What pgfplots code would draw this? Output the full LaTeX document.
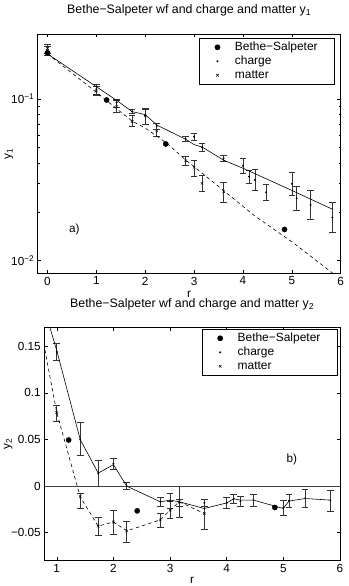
\documentclass[border=0pt]{standalone}
\usepackage{fontspec}
\setmainfont{Liberation Sans}
\usepackage{pgfplots}
\usepackage{pgfplotstable}
\pgfplotsset{compat=1.18}

% ---- y_1 : charge and matter points with lower/upper error limits ----
\pgfplotstableread{
r      y       lo      hi
0      0.198   0.185   0.212
1      0.115   0.107   0.123
1.414  0.095   0.089   0.099
1.732  0.0835  0.081   0.086
2      0.079   0.070   0.087
2.236  0.068   0.065   0.071
2.828  0.0566  0.0545  0.0590
3      0.0585  0.0558  0.0613
3.162  0.0502  0.0472  0.0532
3.606  0.0430  0.0410  0.0450
4      0.0386  0.0347  0.0430
4.123  0.0331  0.0301  0.0364
4.243  0.0316  0.0271  0.0368
4.472  0.0265  0.0237  0.0297
5      0.0299  0.0255  0.0352
5.099  0.0243  0.0206  0.0287
5.385  0.0221  0.0180  0.0271
5.831  0.0185  0.0149  0.0230
}\chargeA
\pgfplotstableread{
r      y       lo      hi
0      0.205   0.192   0.219
1      0.112   0.105   0.120
1.414  0.0896  0.0827  0.0986
1.732  0.0724  0.0674  0.0796
2      0.0785  0.0700  0.0867
2.236  0.0634  0.0585  0.0707
2.828  0.0415  0.0391  0.0440
3      0.0378  0.0334  0.0415
3.162  0.0301  0.0267  0.0339
3.606  0.0267  0.0229  0.0304
}\matterA
\pgfplotstableread{
r      y
0      0.190
1      0.119
1.414  0.098
1.732  0.0835
2      0.0800
2.236  0.069
2.828  0.0563
3      0.0522
3.162  0.0505
3.606  0.0418
4      0.0373
5      0.0272
5.831  0.0208
}\chargeLineA
\pgfplotstableread{
r      y
0      0.190
1      0.110
1.414  0.087
1.732  0.073
2      0.066
2.236  0.059
2.449  0.053
2.828  0.042
3      0.0381
3.162  0.0348
3.606  0.0271
4.243  0.0189
5      0.0131
5.831  0.0084
}\matterLineA
\pgfplotstableread{
r     y
0     0.193
1.21  0.0985
2.42  0.0527
4.85  0.0156
}\bsA

% ---- y_2 ----
\pgfplotstableread{
r      y        lo       hi
1      0.144    0.1347   0.1534
1.414  0.050    0.033    0.068
1.732  0.0136   0.000    0.0272
2      0.024    0.0183   0.0297
2.236  0.000   -0.0036   0.004
2.828 -0.0168  -0.0215  -0.0122
3     -0.016   -0.024   -0.008
3.162 -0.018   -0.0215  -0.0143
3.606 -0.018   -0.0215  -0.0143
4     -0.018   -0.024   -0.0122
4.123 -0.0136  -0.0186  -0.0086
4.243 -0.016   -0.0215  -0.0108
4.472 -0.015   -0.0215  -0.009
5     -0.023   -0.031   -0.015
5.099 -0.0155  -0.0222  -0.009
5.385 -0.013   -0.0222  -0.0036
5.831 -0.0155  -0.0269  -0.0043
}\chargeB
\pgfplotstableread{
r      y        lo       hi
1      0.079    0.070    0.087
1.414 -0.0115  -0.024   -0.008
1.732 -0.043   -0.0527  -0.033
2     -0.0384  -0.0512  -0.0258
2.236 -0.048   -0.0599  -0.0373
2.828 -0.0362  -0.0437  -0.0287
3     -0.0258  -0.0348  -0.0160
3.162 -0.0168  -0.033    0.000
3.606 -0.0294  -0.0462  -0.0140
}\matterB
\pgfplotstableread{
r      y
0      0.35
1      0.1455
1.414  0.050
1.732  0.014
2      0.023
2.236  0.000
2.828 -0.0168
3     -0.015
3.162 -0.0168
3.606 -0.024
4     -0.018
4.123 -0.0136
4.243 -0.015
4.472 -0.015
5     -0.024
5.099 -0.016
5.385 -0.0133
5.831 -0.015
}\chargeLineB
\pgfplotstableread{
r      y
0      0.40
1      0.079
1.414 -0.0115
1.732 -0.043
2     -0.0384
2.236 -0.048
2.828 -0.0362
3     -0.0258
3.162 -0.0168
3.606 -0.0294
}\matterLineB
\pgfplotstableread{
r     y
1.21  0.0495
2.42 -0.0265
4.85 -0.0229
}\bsB

\newcommand{\lblfont}{\fontsize{11.8}{13.5}\selectfont}
\newcommand{\lgdfont}{\fontsize{12}{14}\selectfont}
\newcommand{\ttlfont}{\fontsize{12.4}{14.5}\selectfont}

\pgfplotsset{
  panel/.style={
    scale only axis,
    axis line style={black, line width=0.5pt},
    tick style={black, line width=0.5pt},
    tick align=inside,
    xtick pos=both, ytick pos=both,
    major tick length=3.5bp, minor tick length=2bp,
    tick label style={font=\lblfont},
    /pgf/number format/assume math mode=true,
    label style={font=\lblfont},
    title style={font=\ttlfont, at={(axis description cs:0.5,1)}, anchor=base},
    xlabel style={at={(axis description cs:0.5,0)}, anchor=base, yshift=-23.7bp},
    legend cell align=left,
    legend image code/.code={%
      \draw[##1] plot coordinates {(8.5bp,0bp)};
      \path (0bp,0bp) (23.7bp,0bp);},
    legend style={font=\lgdfont, draw=black, line width=0.5pt,
      anchor=north west,
      inner xsep=9.5bp, inner ysep=2.5bp, row sep=1.5bp,
      nodes={inner ysep=0.5bp, text height=8.5bp, text depth=3bp,
             text width=88bp}},
  },
  bars/.style={
    error bars/.cd, y dir=both, y explicit,
    error bar style={black!80, line width=0.6pt, solid},
    error mark options={black!80, line width=0.6pt, mark size=3.3bp, rotate=90, solid},
  },
}

\begin{document}
\begin{tikzpicture}
\useasboundingbox (0,0) rectangle (349bp,586bp);

\begin{axis}[panel,
  at={(37.7bp,312.7bp)}, anchor=south west,
  width=303bp, height=239.3bp,
  ymode=log, xmin=-0.2, xmax=6, ymin=0.00836, ymax=0.252,
  xtick={0,1,2,3,4,5,6},
  ytick={0.01,0.1},
  yticklabels={10\textsuperscript{−2},10\textsuperscript{−1}},
  title={Bethe−Salpeter wf and charge and matter y\textsubscript{1}},
  title style={yshift=14.7bp},
  xlabel={r},
  ylabel={y\textsubscript{1}},
  ylabel style={at={([xshift=-28.7bp]axis description cs:0,0.5)}, anchor=center, rotate=0},
  legend style={at={([yshift=-4.3bp]axis description cs:0.5323,1)}},
]
\addplot[only marks, mark=*, mark size=2.6bp, black] table[x=r, y=y] {\bsA};
\addplot[only marks, mark=*, mark size=0.7bp, black, bars]
  table[x=r, y=y, y error plus expr=\thisrow{hi}-\thisrow{y}, y error minus expr=\thisrow{y}-\thisrow{lo}] {\chargeA};
\addplot[only marks, mark=x, mark size=1.8bp, black, bars]
  table[x=r, y=y, y error plus expr=\thisrow{hi}-\thisrow{y}, y error minus expr=\thisrow{y}-\thisrow{lo}] {\matterA};
\addplot[black, line width=0.6pt, no marks, forget plot] table[x=r, y=y] {\chargeLineA};
\addplot[black, line width=0.6pt, no marks, dash pattern=on 3.5bp off 3bp, forget plot] table[x=r, y=y] {\matterLineA};
\legend{Bethe−Salpeter, charge, matter}
\node[font=\lblfont, anchor=center] at (axis cs:0.55,0.0157) {a)};
\end{axis}

\begin{axis}[panel,
  at={(44.3bp,25.3bp)}, anchor=south west,
  width=295.7bp, height=233bp,
  xmin=0.78, xmax=6, ymin=-0.08, ymax=0.17,
  xtick={1,2,3,4,5,6},
  ytick={-0.05,0,0.05,0.1,0.15},
  yticklabels={−0.05,0,0.05,0.1,0.15},
  title={Bethe−Salpeter wf and charge and matter y\textsubscript{2}},
  title style={yshift=13.9bp},
  xlabel={r},
  xlabel style={yshift=0.5bp},
  ylabel={y\textsubscript{2}},
  ylabel style={at={([xshift=-36bp]axis description cs:0,0.5)}, anchor=center, rotate=0},
  legend style={at={([yshift=-1.6bp]axis description cs:0.5323,1)}},
]
\addplot[only marks, mark=*, mark size=2.6bp, black] table[x=r, y=y] {\bsB};
\addplot[only marks, mark=*, mark size=0.7bp, black, bars]
  table[x=r, y=y, y error plus expr=\thisrow{hi}-\thisrow{y}, y error minus expr=\thisrow{y}-\thisrow{lo}] {\chargeB};
\addplot[only marks, mark=x, mark size=1.8bp, black, bars]
  table[x=r, y=y, y error plus expr=\thisrow{hi}-\thisrow{y}, y error minus expr=\thisrow{y}-\thisrow{lo}] {\matterB};
\addplot[black, line width=0.6pt, no marks, forget plot] table[x=r, y=y] {\chargeLineB};
\addplot[black, line width=0.6pt, no marks, dash pattern=on 3.5bp off 3bp, forget plot] table[x=r, y=y] {\matterLineB};
\addplot[black!75, line width=0.7pt, no marks, forget plot] coordinates {(0.78,0) (6,0)};
\legend{Bethe−Salpeter, charge, matter}
\node[font=\lblfont, anchor=center] at (axis cs:5.15,0.0287) {b)};
\end{axis}
\end{tikzpicture}
\end{document}
